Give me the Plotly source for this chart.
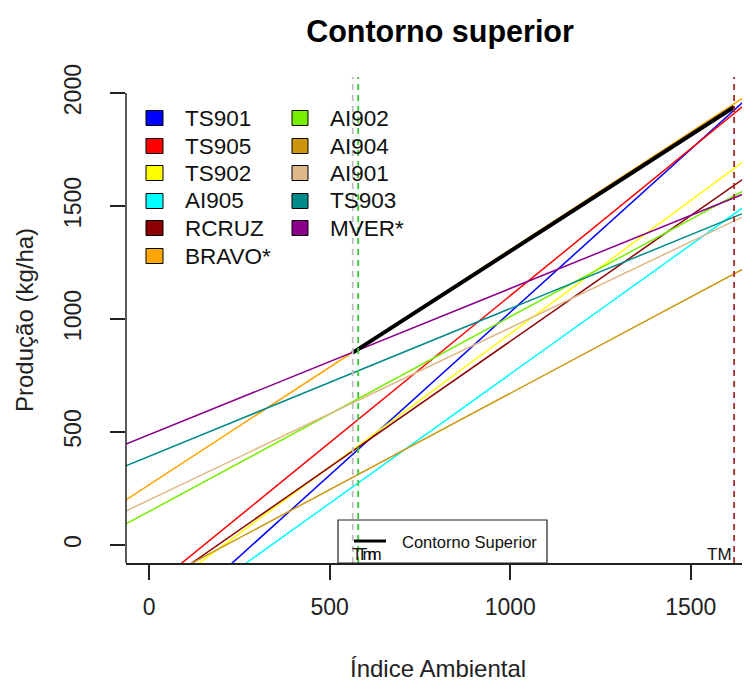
import numpy as np
import plotly.graph_objects as go

# ---- data ----
genotypes = ["TS901", "TS905", "TS902", "AI905", "RCRUZ", "BRAVO*",
             "AI902", "AI904", "AI901", "TS903", "MVER*"]
intercepts = [-412, -198, -244, -388, -212, 266, 148, -182, 199, 392, 488]
slopes = [1.442, 1.301, 1.179, 1.144, 1.113, 1.041, 0.862, 0.853, 0.762, 0.654, 0.647]
colors = ["#0000FF", "#FF0000", "#FFFF00", "#00FFFF", "#8B0000", "#FFA500",
          "#76EE00", "#CD950C", "#DEB887", "#008B8B", "#8B008B"]

contour_x = [563, 1620]
contour_y = [850, 1938]

Tm_gray = 564
Tm_green = 579
TM_val = 1620

x_ticks = [0, 500, 1000, 1500]
y_ticks = [0, 500, 1000, 1500, 2000]

XR = [-64, 1664]
YR = [-80, 2071]

# ---- layout geometry (pixels, page has an 8px body offset) ----
OFF = 8
W, H = 750 - OFF, 684 - OFF
ML, MR, MT, MB = 126 - OFF, 0, 77 - OFF, 121
PW = W - ML - MR
PH = H - MT - MB


def px(x):
    """reference-image x pixel -> paper coordinate"""
    return (x - OFF - ML) / PW


def py(y):
    """reference-image y pixel -> paper coordinate"""
    return (H - MB - (y - OFF)) / PH


fig = go.Figure()

xs = np.array(XR, dtype=float)
for name, a, b, c in zip(genotypes, intercepts, slopes, colors):
    fig.add_trace(go.Scatter(x=xs, y=a + b * xs, mode="lines", name=name,
                             line=dict(color=c, width=1.5), showlegend=False,
                             hoverinfo="skip"))

fig.add_trace(go.Scatter(x=contour_x, y=contour_y, mode="lines",
                         name="Contorno Superior",
                         line=dict(color="black", width=4), showlegend=False))

shapes = []
# vertical dashed lines
for xv, col in [(Tm_gray, "#BEBEBE"), (Tm_green, "#32CD32"), (TM_val, "#A52A2A")]:
    shapes.append(dict(type="line", xref="x", yref="paper", x0=xv, x1=xv, y0=0, y1=1,
                       line=dict(color=col, width=1.8, dash="6px,5px")))
# left axis line (L-shaped frame)
shapes.append(dict(type="line", xref="paper", yref="y", x0=0, x1=0, y0=YR[0], y1=2000,
                   line=dict(color="#222222", width=1.5)))

annotations = []
# top-left legend (two columns)
rows_y = [118, 146, 173, 201, 228, 256]
cols = [(146, 163, 183), (292, 308, 328)]
for i, (name, c) in enumerate(zip(genotypes, colors)):
    col = 0 if i < 6 else 1
    r = i if i < 6 else i - 6
    x0, x1, xt = cols[col]
    yc = rows_y[r]
    shapes.append(dict(type="rect", xref="paper", yref="paper",
                       x0=px(x0), x1=px(x1), y0=py(yc + 7.5), y1=py(yc - 7.5),
                       fillcolor=c, line=dict(color="black", width=1)))
    annotations.append(dict(text=name, xref="paper", yref="paper", x=px(xt), y=py(yc),
                            xanchor="left", yanchor="middle", showarrow=False,
                            font=dict(size=22.5, color="#111111")))

# bottom legend box
shapes.append(dict(type="rect", xref="paper", yref="paper",
                   x0=px(338), x1=px(547), y0=py(563), y1=py(520),
                   line=dict(color="#222222", width=1.2), fillcolor="rgba(0,0,0,0)"))
shapes.append(dict(type="line", xref="paper", yref="paper",
                   x0=px(354), x1=px(386), y0=py(541), y1=py(541),
                   line=dict(color="black", width=3)))
annotations.append(dict(text="Contorno Superior", xref="paper", yref="paper",
                        x=px(400), y=py(542), xanchor="left", yanchor="middle",
                        showarrow=False, font=dict(size=16.5, color="#111111")))

# Tm / TM labels
for xv in [Tm_gray, Tm_green]:
    annotations.append(dict(text="Tm", xref="x", yref="paper", x=xv, y=0,
                            xanchor="left", yanchor="bottom", showarrow=False,
                            font=dict(size=17, color="#111111"), xshift=-3, yshift=-3))
annotations.append(dict(text="TM", xref="x", yref="paper", x=TM_val, y=0,
                        xanchor="right", yanchor="bottom", showarrow=False,
                        font=dict(size=17, color="#111111"), yshift=-3))

# axis titles
annotations.append(dict(text="Índice Ambiental", xref="paper", yref="paper",
                        x=px(438), y=py(668), xanchor="center", yanchor="middle",
                        showarrow=False, font=dict(size=24, color="#222222")))
annotations.append(dict(text="Produção (kg/ha)", xref="paper", yref="paper",
                        x=px(24), y=py(320), xanchor="center", yanchor="middle",
                        textangle=-90, showarrow=False,
                        font=dict(size=24, color="#222222")))

fig.update_layout(
    width=W, height=H, autosize=False,
    margin=dict(l=ML, r=MR, t=MT, b=MB, pad=0),
    paper_bgcolor="white", plot_bgcolor="white",
    font=dict(family="Liberation Sans, Arial, sans-serif", color="#222222"),
    title=dict(text="<b>Contorno superior</b>", x=px(440), xref="paper", xanchor="center",
               y=1 - (31 - OFF) / H, yref="container", yanchor="middle",
               font=dict(size=30.5, color="black")),
    shapes=shapes, annotations=annotations,
    xaxis=dict(range=XR, tickvals=x_ticks, ticktext=[str(v) for v in x_ticks],
               showgrid=False, zeroline=False, showline=True, linecolor="#222222",
               linewidth=1.5, ticks="outside", ticklen=15, tickwidth=1.5,
               tickcolor="#222222", ticklabelstandoff=8,
               tickfont=dict(size=23, color="#222222")),
    yaxis=dict(range=YR, tickvals=y_ticks, ticktext=[str(v) for v in y_ticks],
               showgrid=False, zeroline=False, showline=False,
               ticks="outside", ticklen=15, tickwidth=1.5, tickcolor="#222222",
               tickangle=-90, ticklabelstandoff=20,
               tickfont=dict(size=23, color="#222222")),
)

fig.write_html("out.html")
